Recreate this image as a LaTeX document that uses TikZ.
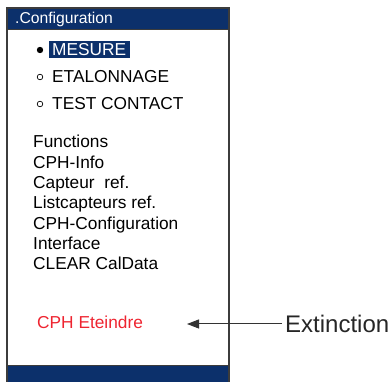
\documentclass[tikz,border=0pt]{standalone}
\usepackage{fontspec}
\setmainfont{Liberation Sans}
\usetikzlibrary{arrows.meta}
\definecolor{navy}{RGB}{12,48,107}
\definecolor{frame}{RGB}{60,60,60}
\definecolor{redtxt}{RGB}{238,36,48}
\begin{document}
\begin{tikzpicture}[x=1pt,y=-1pt,
  txt/.style={anchor=base west,inner sep=0pt,font=\fontsize{17.3}{20}\selectfont},
  hdr/.style={anchor=base west,inner sep=0pt,font=\fontsize{15.7}{18}\selectfont,text=white},
  big/.style={anchor=base west,inner sep=0pt,font=\fontsize{24}{27}\selectfont,text=black!85}]
\useasboundingbox (0,0) rectangle (389,382);
% frame and bars
\fill[navy] (7,8) rectangle (229,29);
\fill[navy] (7,365) rectangle (229,382);
\draw[frame,line width=1.3pt] (7,382) -- (7,8) -- (229,8) -- (229,382);
\draw[frame,line width=0.8pt] (7,29) -- (229,29);
\draw[frame,line width=0.8pt] (7,365) -- (229,365);
\node[hdr] (header) at (15,24) {.Configuration};
% menu
\fill[navy] (49,41.5) rectangle (130,58.5);
\fill[black] (40,50) circle (3.2);
\draw[black,line width=0.7pt] (40,77) circle (2.8);
\draw[black,line width=0.7pt] (40,104) circle (2.8);
\node[txt,text=white] (mesure) at (52,56) {MESURE};
\node[txt] (etal) at (52,83) {ETALONNAGE};
\node[txt] (test) at (52,110) {TEST CONTACT};
% functions list
\node[txt] (f1) at (33,148) {Functions};
\node[txt] (f2) at (33,168.3) {CPH-Info};
\node[txt] (f3) at (33,188.6) {Capteur\ \ ref.};
\node[txt] (f4) at (33,208.9) {Listcapteurs ref.};
\node[txt] (f5) at (33,229.2) {CPH-Configuration};
\node[txt] (f6) at (33,249.5) {Interface};
\node[txt] (f7) at (33,269.8) {CLEAR CalData};
\node[txt,text=redtxt] (eteindre) at (37,329) {CPH Eteindre};
\node[big] (extinction) at (285,333) {Extinction};
\coordinate (tip) at (187,324);
\draw[black!80,line width=1pt,-{Triangle[length=12pt,width=9pt]}] (extinction.west |- tip) ++(-3,0) -- (tip);
\end{tikzpicture}
\end{document}
